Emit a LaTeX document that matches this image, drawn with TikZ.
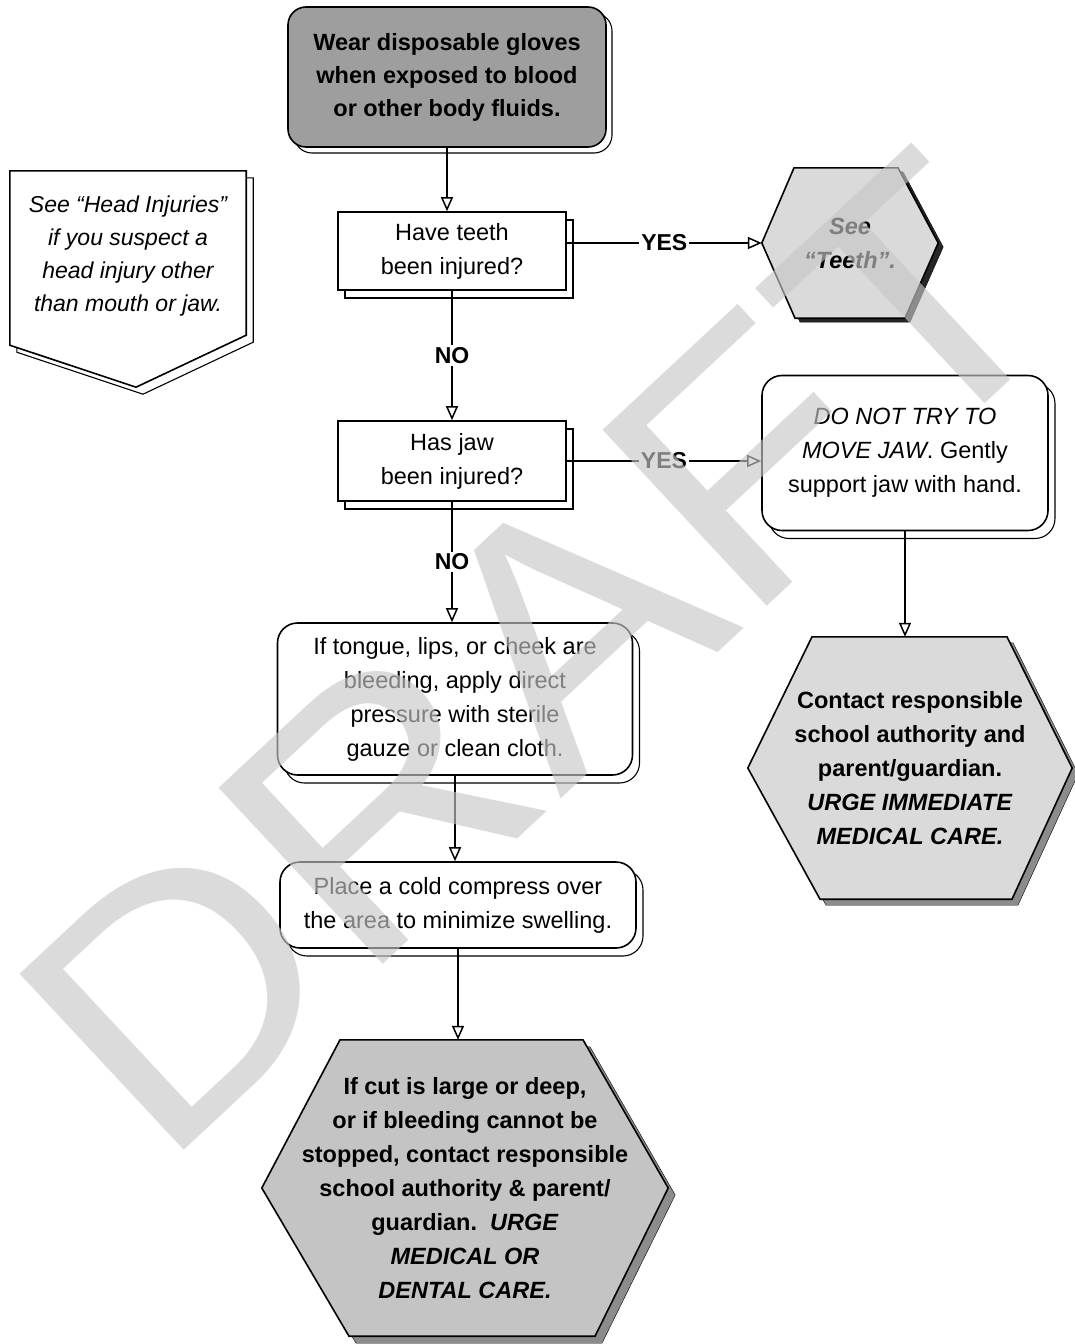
\documentclass[tikz,border=0pt]{standalone}
\usepackage{fontspec}
\usepackage{graphicx}
\setmainfont{Liberation Sans}
\usetikzlibrary{arrows.meta,positioning,calc,shadows,backgrounds}
\definecolor{Shade}{HTML}{9E9E9E}
\definecolor{HexFill}{HTML}{DADADA}
\definecolor{HexDark}{HTML}{C4C4C4}

\tikzset{
  box/.style={draw, line width=1.6pt, fill=white, align=center, inner sep=0pt,
    font=\fontsize{23.5}{34}\selectfont},
  roundbox/.style={box, rounded corners=20pt},
  bevel/.style={general shadow={shadow xshift=7pt, shadow yshift=-8pt, fill=white, draw=black, line width=1.1pt}},
  hextext/.style={align=center, inner sep=0pt, font=\bfseries\fontsize{23.5}{34}\selectfont},
  hexline/.style={draw, line width=1.6pt},
  flow/.style={line width=1.5pt, -{Triangle[fill=white, length=14pt, width=12pt]}},
  lbl/.style={fill=white, inner sep=2pt, font=\bfseries\fontsize{23}{23}\selectfont},
  draftmark/.style={text=black!22, text opacity=.64, inner sep=0pt, font=\fontsize{350}{350}\selectfont}
}

\begin{document}
\begin{tikzpicture}[x=1pt,y=-1pt]
  \useasboundingbox (0,0) rectangle (1075,1344);

  % left column of questions and steps
  \node[roundbox, fill=Shade, rounded corners=18pt, general shadow={shadow xshift=6pt, shadow yshift=-6pt, fill=white, draw=black, line width=1.1pt},
        minimum width=318pt, minimum height=140pt, font=\bfseries\fontsize{23.5}{33}\selectfont] (gloves) at (447,77)
        {Wear disposable gloves\\when exposed to blood\\or other body fluids.};
  \node[box, bevel, minimum width=228pt, minimum height=78pt] (teeth) at (452,251) {Have teeth\\been injured?};
  \node[box, bevel, minimum width=228pt, minimum height=80pt] (jaw) at (452,461) {Has jaw\\been injured?};
  \node[roundbox, bevel, minimum width=355pt, minimum height=152pt] (bleeding) at (455,699)
        {If tongue, lips, or cheek are\\bleeding, apply direct\\pressure with sterile\\gauze or clean cloth.};
  \node[roundbox, bevel, minimum width=356pt, minimum height=86pt] (compress) at (458,905)
        {Place a cold compress over\\the area to minimize swelling.};
  \node[hextext, minimum width=406pt, minimum height=296pt] (cut) at (465,1188)
        {If cut is large or deep,\\or if bleeding cannot be\\stopped, contact responsible\\school authority \& parent/\\guardian.\ \ \textit{URGE}\\\textit{MEDICAL OR}\\\textit{DENTAL CARE.}};

  % right column
  \node[hextext, font=\bfseries\itshape\fontsize{23.5}{34}\selectfont, minimum width=176pt, minimum height=150pt] (seeteeth) at (850,243)
        {See\\“Teeth”.};
  \node[roundbox, bevel, minimum width=286pt, minimum height=155pt] (dontmove) at (905,453)
        {\textit{DO NOT TRY TO}\\\textit{MOVE JAW}. Gently\\support jaw with hand.};
  \node[hextext, minimum width=324pt, minimum height=262pt] (contact) at (910,768)
        {Contact responsible\\school authority and\\parent/guardian.\\\textit{URGE IMMEDIATE}\\\textit{MEDICAL CARE.}};

  % side note
  \node[align=center, inner sep=0pt, font=\itshape\fontsize{23}{33}\selectfont, minimum width=236pt, minimum height=170pt] (headnote) at (128,256)
        {See “Head Injuries”\\if you suspect a\\head injury other\\than mouth or jaw.};

  \begin{scope}[on background layer]
    \draw[hexline, fill=white, general shadow={shadow xshift=7pt, shadow yshift=-7pt, fill=white, draw=black, line width=1.1pt}]
      (headnote.north west) -- (headnote.north east) -- ([yshift=6pt]headnote.south east)
      -- ($(headnote.south)+(8,46)$) -- ([yshift=-4pt]headnote.south west) -- cycle;
    \draw[hexline, fill=HexFill, general shadow={shadow xshift=5pt, shadow yshift=-4pt, fill=black!85, draw=black}]
      (seeteeth.west) -- ([xshift=-56pt]seeteeth.north) -- ([xshift=48pt]seeteeth.north) -- (seeteeth.east)
      -- ([xshift=55pt]seeteeth.south) -- ([xshift=-55pt]seeteeth.south) -- cycle;
    \draw[hexline, fill=HexFill, general shadow={shadow xshift=6pt, shadow yshift=-6pt, fill=black!45, draw=black}]
      (contact.west) -- ([xshift=-98pt]contact.north) -- ([xshift=97pt]contact.north) -- (contact.east)
      -- ([xshift=102pt]contact.south) -- ([xshift=-90pt]contact.south) -- cycle;
    \draw[hexline, fill=HexDark, general shadow={shadow xshift=7pt, shadow yshift=-7pt, fill=black!45, draw=black}]
      (cut.west) -- ([xshift=-125pt]cut.north) -- ([xshift=118pt]cut.north) -- (cut.east)
      -- ([xshift=130pt]cut.south) -- ([xshift=-116pt]cut.south) -- cycle;
  \end{scope}

  % connectors
  \draw[flow] (gloves.south) -- (gloves.south |- teeth.north);
  \draw[flow] (teeth.east |- seeteeth.west) -- node[lbl] {YES} (seeteeth.west);
  \draw[flow] (teeth.south) -- node[lbl] {NO} (jaw.north);
  \draw[flow] (jaw.east) -- node[lbl] {YES} (jaw.east -| dontmove.west);
  \draw[flow] (jaw.south) -- node[lbl] {NO} (jaw.south |- bleeding.north);
  \draw[flow] (bleeding.south) -- (bleeding.south |- compress.north);
  \draw[flow] (compress.south) -- (compress.south |- cut.north);
  \draw[flow] (dontmove.south) -- (dontmove.south |- contact.north);

  % watermark
  \node[draftmark, rotate=43, anchor=base west] (draft) at (161,1172) {\scalebox{1.08}[1]{DRAFT}};
\end{tikzpicture}
\end{document}
